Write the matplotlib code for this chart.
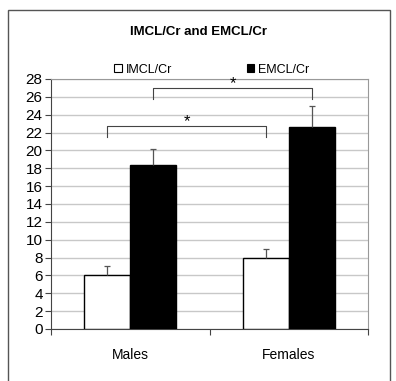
import matplotlib
matplotlib.use("Agg")
import matplotlib.pyplot as plt
from matplotlib.patches import Patch, Rectangle
import numpy as np

plt.rcParams['font.family'] = ['Liberation Sans', 'DejaVu Sans']

groups = ['Males', 'Females']
imcl = [6.0, 7.9]
imcl_err = [1.1, 1.1]
emcl = [18.4, 22.6]
emcl_err = [1.8, 2.4]
yticks = list(range(0, 29, 2))

fig = plt.figure(figsize=(3.96, 3.81), dpi=100)
ax = fig.add_axes([0.1288, 0.1365, 0.8005, 0.6562])

x = np.arange(len(groups))
w = 0.29
ax.bar(x - w / 2, imcl, w, color='white', edgecolor='black', linewidth=1, zorder=3)
ax.bar(x + w / 2, emcl, w, color='black', edgecolor='black', linewidth=1, zorder=3)

# upper error bars only
cap = 0.02
for xs, vals, errs in [(x - w / 2, imcl, imcl_err), (x + w / 2, emcl, emcl_err)]:
    tops = np.array(vals) + np.array(errs)
    ax.vlines(xs, vals, tops, color='#555555', lw=0.9, zorder=4)
    ax.hlines(tops, xs - cap, xs + cap, color='#555555', lw=0.9, zorder=4)

# significance brackets
def bracket(x0, x1, y, leg, star_y):
    ax.plot([x0, x0, x1, x1], [y - leg, y, y, y - leg], color='#444444', lw=0.8, zorder=4)
    ax.text((x0 + x1) / 2, star_y, '*', ha='center', va='center', fontsize=12, zorder=4)

bracket(x[0] - w / 2, x[1] - w / 2, 22.7, 1.2, 23.2)
bracket(x[0] + w / 2, x[1] + w / 2, 26.95, 1.2, 27.5)

ax.set_xlim(-0.5, 1.5)
ax.set_ylim(0, 28)
ax.set_yticks(yticks)
ax.set_yticklabels([str(t) for t in yticks], fontsize=11)
ax.yaxis.grid(True, color='#c8c8c8', lw=1)
ax.set_axisbelow(True)

ax.set_xticks([-0.5, 0.5, 1.5])
ax.set_xticklabels([])
ax.set_xticks(x, minor=True)
ax.set_xticklabels(groups, minor=True, fontsize=10)
ax.tick_params(axis='x', which='minor', length=0, pad=14)
ax.tick_params(axis='x', which='major', length=4, color='#444444')
ax.tick_params(axis='y', length=4, pad=2, color='#444444')

for s in ['top', 'right']:
    ax.spines[s].set_color('#999999')
for s in ['left', 'bottom']:
    ax.spines[s].set_color('#444444')

fig.text(0.5, 0.915, 'IMCL/Cr and EMCL/Cr', ha='center', va='center',
         fontsize=9.5, fontweight='bold')

handles = [Patch(facecolor='white', edgecolor='black', lw=0.8, label='IMCL/Cr'),
           Patch(facecolor='black', edgecolor='black', lw=0.8, label='EMCL/Cr')]
fig.legend(handles=handles, loc='center', bbox_to_anchor=(0.535, 0.817), ncol=2,
           frameon=False, fontsize=9, handlelength=0.6, handleheight=0.6,
           handletextpad=0.3, columnspacing=6.0)

fig.patches.append(Rectangle((8 / 396, -0.05), 382 / 396, 1.05 - 10 / 381,
                             transform=fig.transFigure, fill=False,
                             edgecolor='#555555', lw=1))

fig.savefig('out.png', dpi=100)
